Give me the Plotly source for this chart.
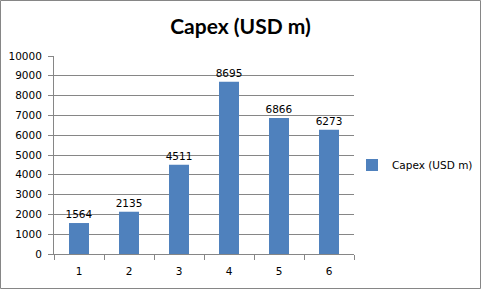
import plotly.graph_objects as go

categories = ["1", "2", "3", "4", "5", "6"]
values = [1564, 2135, 4511, 8695, 6866, 6273]
series_name = "Capex (USD m)"
y_ticks = list(range(0, 10001, 1000))
y_tick_text = [str(v) for v in y_ticks]

W, H = 481, 289
L, R, T, B = 54, 127, 56, 35
pw, ph = W - L - R, H - T - B

fig = go.Figure()
fig.add_trace(go.Bar(
    x=categories, y=values, name=series_name,
    marker=dict(color="#4F81BD", line=dict(width=0)),
    width=0.4,
    text=[str(v) for v in values], textposition="outside",
    textfont=dict(family="DejaVu Sans", size=10.5, color="#000000"),
    constraintext="none",
    cliponaxis=False,
))

fig.update_layout(
    width=W, height=H,
    margin=dict(l=L, r=R, t=T, b=B, pad=0, autoexpand=False),
    paper_bgcolor="white", plot_bgcolor="white",
    title=dict(text="<b>Capex (USD m)</b>", x=0.5, xanchor="center",
               y=1 - 27 / H, yanchor="middle",
               font=dict(family="Lato", size=21, color="#000000")),
    showlegend=True,
    legend=dict(x=(352 - L) / pw, xanchor="left", y=(T + ph - 165) / ph, yanchor="middle",
                font=dict(family="DejaVu Sans", size=10.5, color="#000000"),
                bgcolor="rgba(0,0,0,0)", itemwidth=30),
    font=dict(family="DejaVu Sans", size=10.5, color="#000000"),
    xaxis=dict(type="category", tickson="boundaries", ticks="outside", ticklen=5,
               tickcolor="#868686", showline=True, linecolor="#868686", linewidth=1,
               showgrid=False, ticklabelstandoff=7, automargin=False,
               tickfont=dict(family="DejaVu Sans", size=10.5)),
    yaxis=dict(range=[0, 10000], tickvals=y_ticks, ticktext=y_tick_text,
               ticks="outside", ticklen=5,
               tickcolor="#868686", showline=True, linecolor="#868686", linewidth=1,
               showgrid=True, gridcolor="#868686", gridwidth=1, zeroline=False,
               ticklabelstandoff=4, automargin=False,
               tickfont=dict(family="DejaVu Sans", size=10.5)),
    bargap=0.6,
)

fig.add_shape(type="rect", xref="paper", yref="paper",
              x0=(0.5 - L) / pw, x1=(W - 0.5 - L) / pw,
              y0=(T + ph - (H - 0.5)) / ph, y1=(T + ph - 0.5) / ph,
              line=dict(color="#868686", width=1), fillcolor="rgba(0,0,0,0)", layer="below")

fig.write_html("out.html")
